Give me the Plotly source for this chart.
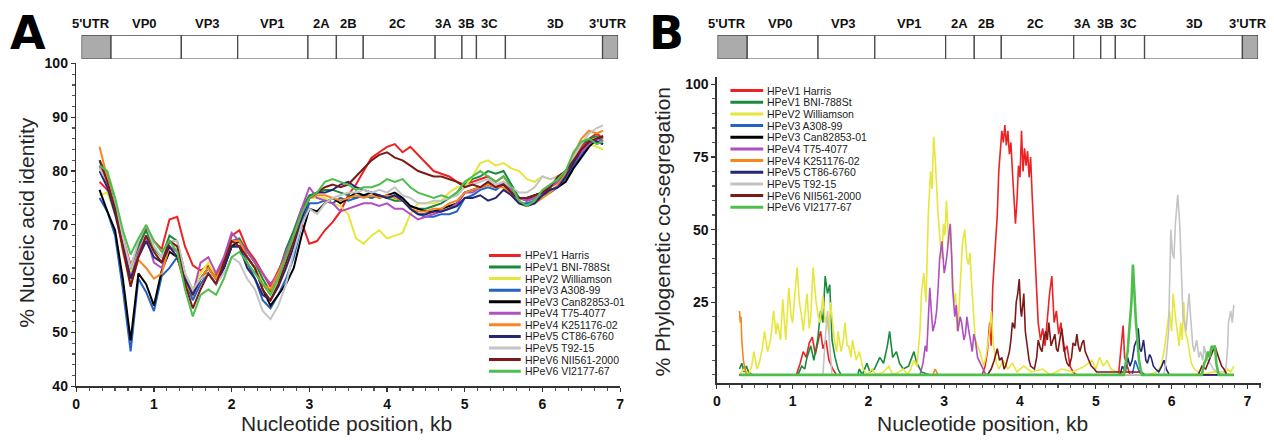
import plotly.graph_objects as go

W, H = 1274, 444
FONT = "Arial, Liberation Sans, sans-serif"

# ---------------- series metadata ----------------
names = ["HPeV1 Harris", "HPeV1 BNI-788St", "HPeV2 Williamson", "HPeV3 A308-99",
         "HPeV3 Can82853-01", "HPeV4 T75-4077", "HPeV4 K251176-02", "HPeV5 CT86-6760",
         "HPeV5 T92-15", "HPeV6 NII561-2000", "HPeV6 VI2177-67"]
colors = ["#ec2224", "#178a3c", "#e6e63c", "#2462c4", "#000000", "#b04fc0",
          "#f7861e", "#262673", "#c4c4c4", "#7c1a18", "#4cbf4c"]

# ---------------- genome map ----------------
regions = ["5'UTR", "VP0", "VP3", "VP1", "2A", "2B", "2C", "3A", "3B", "3C", "3D", "3'UTR"]
region_starts = [0.0, 0.055, 0.186, 0.291, 0.422, 0.475, 0.525, 0.659, 0.709, 0.736, 0.790, 0.971]
region_label_pos = [0.017, 0.117, 0.234, 0.355, 0.447, 0.498, 0.589, 0.675, 0.717, 0.760, 0.883, 0.981]

# ---------------- panel A: % nucleic acid identity ----------------
pos_a = [0.3, 0.4, 0.5, 0.6, 0.7, 0.8, 0.9, 1.0, 1.1, 1.2, 1.3, 1.4, 1.5, 1.6, 1.7, 1.8,
         1.9, 2.0, 2.1, 2.2, 2.3, 2.4, 2.5, 2.6, 2.7, 2.8, 2.9, 3.0, 3.1, 3.2, 3.3, 3.4,
         3.5, 3.6, 3.7, 3.8, 3.9, 4.0, 4.1, 4.2, 4.3, 4.4, 4.5, 4.6, 4.7, 4.8, 4.9, 5.0,
         5.1, 5.2, 5.3, 5.4, 5.5, 5.6, 5.7, 5.8, 5.9, 6.0, 6.1, 6.2, 6.3, 6.4, 6.5, 6.6,
         6.7, 6.78]

id_harris = [78, 76.5, 73, 67.5, 62.5, 66, 69.5, 67, 65.5, 71, 71.5, 66, 62.5, 61.5, 62.5, 60.5,
             63.5, 68, 69, 65.5, 63.5, 61, 58.5, 61.5, 64.5, 68, 70.5, 66.5, 67, 69, 70.5, 72.5,
             75.5, 77.5, 80, 82.5, 83.5, 84.5, 85, 83.5, 84.5, 83, 81.5, 80, 79.5, 79, 78, 77.5,
             78, 78.5, 79, 78, 79, 77, 75, 74.5, 75.5, 76, 77.5, 78, 79.5, 82, 84.5, 86,
             87, 86]
id_bni = [82, 79, 73.5, 67, 61.5, 66, 69, 65.5, 64, 68, 67, 61, 57, 60, 62, 60,
          63, 67, 67.5, 65, 63, 60, 57.5, 61, 65.5, 69, 73, 75.5, 76, 76.5, 76.5, 76,
          75.5, 75, 75.5, 75, 75.5, 75, 74.5, 74.5, 73.5, 73, 73, 73.5, 74, 75, 76, 77.5,
          78.5, 79, 80, 79.5, 80, 77.5, 75, 74.5, 75, 76, 77, 78, 80, 83, 85, 86,
          86.5, 85.5]
id_williamson = [75.5, 76, 72, 67, 61, 65, 68, 65, 63, 67, 66, 61, 58, 61, 63, 60,
                 62, 66, 67, 64, 62, 59, 57, 60, 63, 67, 72, 75, 75, 75, 74, 73.5,
                 72, 67.5, 66.5, 68, 69, 67.5, 68, 68.5, 72, 74, 74, 74, 74.5, 76, 77, 77,
                 79, 81.5, 82, 81, 81.5, 80.5, 80, 78.5, 78, 79, 78.5, 79, 80, 82, 83.5, 85,
                 84.5, 84]
id_a308 = [75, 72.5, 68, 58, 46.5, 60, 57.5, 54, 60.5, 62, 64, 59.5, 56, 59, 61, 59,
           62, 66, 66, 63, 60, 56, 54.5, 57, 60, 64, 70, 74, 74, 74.5, 74, 75,
           74.5, 75, 75.5, 75, 75.5, 75, 75.5, 75, 73, 72, 71.5, 71.5, 72, 72, 72.5, 75,
           75.5, 76.5, 77, 76.5, 77.5, 76, 74, 74, 74.5, 75.5, 76, 77, 78.5, 81, 83, 85,
           85.5, 85]
id_can = [76.5, 72.5, 69, 60, 48.5, 61, 59, 55, 61.5, 65, 64, 59, 57, 60, 62, 60,
          62, 66, 67, 64, 62, 58, 55, 57, 59, 62, 68, 73, 72.5, 74, 75, 74,
          75, 76, 75.5, 76, 75, 75.5, 76, 75, 73.5, 73, 72.5, 72.5, 73, 73.5, 74, 76,
          76.5, 77, 77.5, 77, 77.5, 76, 75, 75, 75.5, 76, 76.5, 77, 78, 80.5, 82.5, 84.5,
          86, 86.5]
id_t75 = [81, 77.5, 73, 67, 60, 65, 68, 63, 62, 66, 65, 60, 57, 63, 64, 61,
          64, 68.5, 67, 65, 63, 61, 59, 61, 65, 68, 73, 77, 75, 74.5, 74, 72.5,
          73, 73.5, 74, 74, 73.5, 74, 73, 73, 72, 71, 71.5, 72, 72.5, 73, 74, 76,
          76, 77, 77.5, 77, 78, 76.5, 75, 74.5, 75, 76, 77, 78, 79, 81.5, 83.5, 85,
          86, 85.5]
id_k251 = [84.5, 79, 73, 65, 59, 63.5, 62, 60, 61, 66, 64, 59, 57, 60, 62, 60,
           63, 67, 67, 64, 62, 59, 58, 61, 64, 68, 72, 75, 75.5, 75.5, 75, 74.5,
           75, 75.5, 75, 75.5, 75, 75.5, 75, 74.5, 73, 72.5, 72.5, 73, 73, 74, 74.5, 76,
           76.5, 77, 77.5, 77, 77, 75.5, 74, 73.5, 74, 75, 76, 77.5, 79.5, 83, 86, 87.5,
           87, 87.5]
id_ct86 = [80, 77, 72, 66, 60, 64, 67, 64, 63, 66, 64, 60, 57, 60, 61, 59,
           62, 66, 66, 62, 60, 57, 56, 58.5, 62, 66, 71, 75, 76, 76, 76.5, 77.5,
           78, 77, 76.5, 76, 75.5, 75, 75.5, 74.5, 73, 72, 72, 72.5, 72.5, 73, 73.5, 75,
           75, 75.5, 74.5, 75, 76.5, 75.5, 74, 73.5, 74, 75.5, 76.5, 77, 79, 81.5, 84, 85.5,
           85.5, 85]
id_t92 = [80.5, 78, 73.5, 68, 62, 67, 70, 66, 64, 67, 67, 61, 58, 60, 61, 59,
          61, 64, 63, 60, 58, 54, 52.5, 55, 59, 65, 70, 73, 72, 74, 75, 75.5,
          76, 76, 76.5, 76, 76.5, 76, 77, 75.5, 75, 74, 74, 74.5, 74.5, 75, 75.5, 77,
          77.5, 78, 78.5, 77.5, 78, 77, 76, 76, 77, 79, 78.5, 79, 80, 82.5, 85, 87,
          88, 88.5]
id_nii = [82, 78, 73, 66, 58.5, 64, 68, 65, 63, 67, 66, 59, 54.5, 58, 61, 59,
          63, 67, 66, 64, 62, 58, 56, 59, 63, 67, 72, 75, 76, 77, 77.5, 77,
          77.5, 79, 80.5, 82, 83, 83.5, 82.5, 82, 81, 80, 79.5, 79, 79, 78.5, 78, 77,
          77.5, 77, 78, 77, 77.5, 76, 75, 75, 75.5, 76, 77, 79, 80, 82, 84, 85.5,
          86, 86.5]
id_vi = [81, 80, 75, 69, 64.5, 67.5, 70, 67, 65, 67, 65, 58, 53, 57, 58, 57,
         60, 64, 65, 63, 61, 59, 57, 60, 64, 68, 72, 75, 76, 78, 78.5, 78,
         77.5, 76.5, 77, 77, 77.5, 78.5, 78, 78.5, 77, 76, 75.5, 75, 75.5, 75, 76, 78,
         79, 80, 79, 78, 79, 77, 74.5, 73.5, 74.5, 76.5, 77.5, 78.5, 80, 83.5, 85.5, 86,
         85, 85.5]
identity_series = [id_harris, id_bni, id_williamson, id_a308, id_can, id_t75,
                   id_k251, id_ct86, id_t92, id_nii, id_vi]

# ---------------- panel B: % phylogenetic co-segregation (kb, %) ----------------
cs_harris = [(0.30, 0), (1.05, 0), (1.10, 4), (1.14, 8), (1.18, 6), (1.22, 11), (1.26, 13), (1.30, 7),
             (1.34, 12), (1.37, 15), (1.40, 9), (1.44, 12), (1.48, 5), (1.53, 2), (1.58, 0), (3.50, 0),
             (3.54, 3), (3.57, 8), (3.60, 18), (3.62, 10), (3.64, 30), (3.67, 42), (3.70, 55), (3.72, 70),
             (3.74, 78), (3.76, 84), (3.78, 80), (3.80, 86), (3.82, 79), (3.84, 84), (3.86, 76), (3.88, 80),
             (3.90, 70), (3.92, 62), (3.94, 52), (3.96, 60), (3.98, 72), (4.00, 68), (4.02, 84), (4.04, 70),
             (4.06, 78), (4.08, 72), (4.10, 77), (4.12, 68), (4.14, 75), (4.16, 62), (4.18, 50), (4.20, 40),
             (4.22, 28), (4.24, 18), (4.27, 12), (4.30, 16), (4.33, 10), (4.36, 20), (4.39, 28), (4.42, 34),
             (4.45, 18), (4.48, 22), (4.51, 14), (4.54, 18), (4.58, 8), (4.62, 10), (4.66, 3), (4.70, 1),
             (4.74, 0), (5.30, 0), (5.34, 10), (5.36, 17), (5.38, 6), (5.41, 3), (5.45, 0), (6.82, 0)]
cs_bni = [(0.30, 2), (0.33, 4), (0.36, 1), (0.39, 3), (0.42, 1), (0.46, 0), (1.07, 0), (1.12, 3),
          (1.16, 2), (1.19, 6), (1.24, 10), (1.28, 5), (1.33, 12), (1.37, 22), (1.40, 18), (1.43, 34),
          (1.46, 28), (1.49, 31), (1.52, 12), (1.56, 6), (1.60, 2), (1.64, 0), (1.86, 0), (1.88, 2),
          (1.92, 0), (1.98, 4), (2.02, 1), (2.08, 2), (2.15, 6), (2.20, 4), (2.25, 10), (2.28, 15),
          (2.32, 6), (2.37, 8), (2.41, 4), (2.46, 2), (2.53, 3), (2.60, 8), (2.64, 4), (2.70, 1),
          (2.80, 0), (6.82, 0)]
cs_williamson = [(0.30, 0), (0.36, 2), (0.42, 0), (0.46, 3), (0.49, 8), (0.53, 2), (0.56, 4), (0.60, 9),
                 (0.63, 15), (0.67, 8), (0.71, 12), (0.75, 22), (0.78, 14), (0.80, 18), (0.84, 12), (0.87, 26),
                 (0.91, 12), (0.95, 30), (0.98, 20), (1.00, 18), (1.03, 28), (1.06, 37), (1.09, 25), (1.12, 20),
                 (1.14, 15), (1.17, 22), (1.19, 28), (1.22, 16), (1.24, 20), (1.27, 37), (1.31, 25), (1.34, 20),
                 (1.36, 18), (1.40, 27), (1.43, 18), (1.45, 20), (1.48, 14), (1.50, 25), (1.53, 16), (1.55, 12),
                 (1.58, 8), (1.60, 15), (1.64, 8), (1.67, 12), (1.69, 18), (1.72, 10), (1.74, 10), (1.77, 6),
                 (1.79, 12), (1.82, 7), (1.84, 5), (1.88, 8), (1.93, 2), (1.98, 0), (2.05, 2), (2.10, 0),
                 (2.20, 1), (2.27, 3), (2.32, 0), (2.40, 1), (2.46, 2), (2.52, 0), (2.56, 2), (2.60, 5),
                 (2.64, 3), (2.68, 15), (2.70, 28), (2.73, 35), (2.76, 25), (2.79, 55), (2.82, 70), (2.84, 64),
                 (2.86, 82), (2.88, 75), (2.90, 62), (2.92, 55), (2.95, 45), (2.97, 40), (2.99, 52), (3.01, 48),
                 (3.03, 60), (3.06, 45), (3.08, 50), (3.10, 38), (3.13, 25), (3.15, 28), (3.17, 15), (3.19, 20),
                 (3.21, 30), (3.24, 45), (3.27, 50), (3.30, 40), (3.32, 38), (3.34, 42), (3.36, 32), (3.38, 25),
                 (3.41, 12), (3.44, 10), (3.47, 8), (3.50, 5), (3.52, 3), (3.55, 6), (3.57, 10), (3.60, 15),
                 (3.62, 22), (3.65, 10), (3.69, 4), (3.72, 2), (3.78, 5), (3.84, 2), (3.90, 4), (3.96, 1),
                 (4.05, 3), (4.15, 1), (4.30, 2), (4.40, 0), (4.55, 2), (4.70, 1), (4.85, 3), (4.95, 5),
                 (5.00, 2), (5.05, 6), (5.10, 3), (5.15, 5), (5.20, 2), (5.28, 1), (5.40, 0), (5.70, 0),
                 (5.80, 1), (5.86, 3), (5.90, 8), (5.92, 12), (5.95, 18), (5.97, 22), (6.00, 15), (6.02, 28),
                 (6.05, 20), (6.07, 15), (6.10, 10), (6.12, 18), (6.14, 12), (6.16, 25), (6.18, 15), (6.21, 12),
                 (6.24, 6), (6.26, 4), (6.30, 2), (6.40, 0), (6.55, 1), (6.70, 0), (6.74, 2), (6.78, 1),
                 (6.82, 3)]
cs_a308 = [(0.30, 0), (5.48, 0), (5.52, 5), (5.56, 2), (5.60, 0), (6.82, 0)]
cs_can = [(0.30, 0), (6.82, 0)]
cs_t75 = [(0.30, 0), (2.68, 0), (2.72, 4), (2.75, 10), (2.77, 8), (2.79, 20), (2.81, 30), (2.83, 22),
          (2.85, 15), (2.88, 18), (2.90, 22), (2.92, 30), (2.94, 40), (2.97, 46), (3.00, 35), (3.02, 38),
          (3.04, 42), (3.06, 48), (3.08, 52), (3.10, 40), (3.11, 30), (3.14, 20), (3.16, 24), (3.18, 15),
          (3.21, 20), (3.23, 18), (3.26, 12), (3.28, 14), (3.30, 20), (3.32, 16), (3.34, 12), (3.37, 8),
          (3.39, 14), (3.41, 12), (3.44, 6), (3.46, 5), (3.49, 3), (3.51, 2), (3.55, 0), (6.82, 0)]
cs_k251 = [(0.30, 22), (0.31, 18), (0.32, 20), (0.33, 12), (0.35, 5), (0.37, 2), (0.39, 0), (2.85, 0),
           (2.88, 2), (2.92, 0), (6.82, 0)]
cs_ct86 = [(0.30, 0), (5.32, 0), (5.35, 3), (5.39, 1), (5.42, 6), (5.45, 3), (5.48, 5), (5.51, 10),
           (5.54, 12), (5.56, 16), (5.58, 9), (5.60, 8), (5.63, 12), (5.66, 5), (5.68, 4), (5.71, 7),
           (5.73, 6), (5.76, 3), (5.79, 2), (5.83, 1), (5.87, 3), (5.90, 5), (5.93, 2), (5.97, 0),
           (6.82, 0)]
cs_t92 = [(0.30, 0), (1.40, 0), (1.43, 12), (1.46, 22), (1.49, 10), (1.52, 0), (5.90, 0), (5.93, 6),
          (5.96, 15), (5.98, 35), (5.99, 50), (6.01, 42), (6.03, 40), (6.05, 52), (6.06, 55), (6.08, 62),
          (6.10, 55), (6.11, 50), (6.13, 35), (6.15, 20), (6.17, 18), (6.19, 15), (6.21, 22), (6.23, 28),
          (6.25, 20), (6.28, 10), (6.30, 8), (6.33, 12), (6.36, 6), (6.38, 8), (6.41, 5), (6.43, 10),
          (6.46, 6), (6.48, 5), (6.52, 3), (6.55, 2), (6.60, 1), (6.64, 1), (6.70, 1), (6.72, 3),
          (6.74, 10), (6.75, 18), (6.78, 22), (6.80, 18), (6.82, 24)]
cs_nii = [(0.30, 0), (3.57, 0), (3.62, 2), (3.66, 5), (3.70, 9), (3.73, 5), (3.76, 6), (3.79, 2),
          (3.81, 3), (3.84, 6), (3.86, 8), (3.88, 12), (3.90, 18), (3.93, 16), (3.95, 25), (3.97, 28),
          (3.99, 33), (4.01, 22), (4.02, 20), (4.04, 25), (4.05, 28), (4.07, 15), (4.10, 8), (4.12, 5),
          (4.14, 3), (4.19, 2), (4.22, 6), (4.24, 12), (4.27, 9), (4.29, 8), (4.31, 12), (4.34, 15),
          (4.36, 12), (4.38, 18), (4.41, 10), (4.44, 12), (4.46, 14), (4.48, 9), (4.50, 8), (4.53, 13),
          (4.55, 16), (4.58, 10), (4.60, 6), (4.62, 4), (4.65, 3), (4.68, 6), (4.70, 11), (4.73, 10),
          (4.75, 14), (4.77, 10), (4.79, 8), (4.82, 11), (4.84, 12), (4.86, 8), (4.89, 6), (4.91, 5),
          (4.94, 3), (4.98, 2), (5.01, 1), (5.60, 1), (5.65, 0), (6.35, 0), (6.40, 3), (6.45, 2),
          (6.50, 5), (6.54, 8), (6.57, 10), (6.60, 7), (6.62, 6), (6.66, 3), (6.69, 2), (6.73, 0),
          (6.82, 0)]
cs_vi = [(0.30, 0), (5.37, 0), (5.40, 5), (5.42, 8), (5.44, 15), (5.46, 22), (5.47, 25), (5.49, 38),
         (5.50, 32), (5.51, 28), (5.53, 18), (5.54, 15), (5.57, 5), (5.59, 2), (5.61, 0), (6.40, 0),
         (6.43, 4), (6.45, 5), (6.48, 8), (6.50, 6), (6.53, 10), (6.55, 9), (6.57, 10), (6.59, 4),
         (6.62, 0), (6.82, 0)]
coseg_series = [cs_harris, cs_bni, cs_williamson, cs_a308, cs_can, cs_t75,
                cs_k251, cs_ct86, cs_t92, cs_nii, cs_vi]

# ---------------- layout geometry (pixels) ----------------
def px_x(p):
    return p / W

def px_y(p):
    return 1 - p / H

fig = go.Figure()

for name, col, vals in zip(names, colors, identity_series):
    assert len(vals) == len(pos_a), name
    fig.add_trace(go.Scatter(x=pos_a, y=vals, mode="lines", name=name,
                             line=dict(color=col, width=2), xaxis="x", yaxis="y",
                             showlegend=False))

for name, col, pts in zip(names, colors, coseg_series):
    xs = [p[0] for p in pts]
    ys = [p[1] for p in pts]
    w = 2.6 if name == "HPeV6 VI2177-67" else 1.6
    fig.add_trace(go.Scatter(x=xs, y=ys, mode="lines", name=name,
                             line=dict(color=col, width=w), xaxis="x2", yaxis="y2",
                             showlegend=False))

# genome maps (bars)
region_ends = region_starts[1:] + [1.0]
widths = [e - s for s, e in zip(region_starts, region_ends)]
fills = ["#ababab" if "UTR" in r else "#ffffff" for r in regions]
for xa, ya in (("x3", "y3"), ("x4", "y4")):
    fig.add_trace(go.Bar(x=widths, base=region_starts, y=[0] * len(regions), orientation="h",
                         width=1, marker=dict(color=fills, line=dict(color="#4a4a4a", width=1.3)),
                         xaxis=xa, yaxis=ya, showlegend=False, hoverinfo="skip"))

axis_common = dict(showline=True, linecolor="#333333", linewidth=1.5, ticks="outside",
                   tickcolor="#333333", ticklen=4, tickwidth=1.2, showgrid=False, zeroline=False,
                   tickfont=dict(family=FONT, size=14, color="#111111", weight="bold"))

fig.update_layout(
    width=W, height=H, margin=dict(l=0, r=0, t=0, b=0),
    paper_bgcolor="white", plot_bgcolor="white", barmode="overlay",
    xaxis=dict(domain=[px_x(72.7), px_x(620)], range=[0, 7], dtick=1, anchor="y",
               minor=dict(ticks="outside", ticklen=3, dtick=1 / 6, tickcolor="#555555"),
               **axis_common),
    yaxis=dict(domain=[px_y(392.5), px_y(57.5)], range=[40, 100], dtick=10, anchor="x",
               minor=dict(ticks="outside", ticklen=3, dtick=2, tickcolor="#555555"),
               **axis_common),
    xaxis2=dict(domain=[px_x(717.3), px_x(1265)], range=[0, 7.18], dtick=1, anchor="y2",
                minor=dict(ticks="outside", ticklen=3, dtick=1 / 6, tickcolor="#555555"),
                **axis_common),
    yaxis2=dict(domain=[px_y(389.3), px_y(72)], range=[-2.9, 102.4], tickvals=[25, 50, 75, 100],
                anchor="x2", minor=dict(ticks="outside", ticklen=3, dtick=5, tickcolor="#555555"),
                **axis_common),
    xaxis3=dict(domain=[px_x(78), px_x(618)], range=[0, 1], visible=False, anchor="y3"),
    yaxis3=dict(domain=[px_y(53), px_y(28)], range=[-0.5, 0.5], visible=False, anchor="x3"),
    xaxis4=dict(domain=[px_x(718), px_x(1262)], range=[0, 1], visible=False, anchor="y4"),
    yaxis4=dict(domain=[px_y(53), px_y(28)], range=[-0.5, 0.5], visible=False, anchor="x4"),
)

ann = []
# genome region labels
for xa in ("x3", "x4"):
    for r, p in zip(regions, region_label_pos):
        ann.append(dict(text=r, x=p, xref=xa, y=px_y(16), yref="paper", showarrow=False,
                        font=dict(family=FONT, size=13, color="#111111", weight="bold"),
                        xanchor="center", yanchor="middle"))

# panel letters
for letter, cx in (("A", 24), ("B", 667)):
    ann.append(dict(text=letter, x=px_x(cx), y=px_y(26), xref="paper", yref="paper",
                    showarrow=False, xanchor="center", yanchor="middle",
                    font=dict(family="DejaVu Sans, Arial", size=46, color="black", weight="bold")))

# axis titles
title_font = dict(family=FONT, size=21, color="#262626")
ann.append(dict(text="% Nucleic acid identity", x=px_x(22), y=px_y(222), xref="paper", yref="paper",
                textangle=-90, showarrow=False, font=title_font, xanchor="center", yanchor="middle"))
ann.append(dict(text="% Phylogenetic co-segregation", x=px_x(663), y=px_y(232), xref="paper",
                yref="paper", textangle=-90, showarrow=False, font=title_font,
                xanchor="center", yanchor="middle"))
ann.append(dict(text="Nucleotide position, kb", x=px_x(345), y=0, xref="paper", yref="paper",
                showarrow=False, font=title_font, xanchor="center", yanchor="bottom", borderpad=0))
ann.append(dict(text="Nucleotide position, kb", x=px_x(985), y=0, xref="paper", yref="paper",
                showarrow=False, font=title_font, xanchor="center", yanchor="bottom", borderpad=0))

# manual compact legends
shapes = []
legend_font = dict(family=FONT, size=10.5, color="#1a1a1a")
for (lx0, lx1, tx, y0, dy) in ((488, 520, 522, 256.7, 12.0), (731, 764, 766, 85.7, 12.1)):
    for i, (name, col) in enumerate(zip(names, colors)):
        yy = px_y(y0 + dy * i)
        shapes.append(dict(type="line", xref="paper", yref="paper", x0=px_x(lx0), x1=px_x(lx1),
                           y0=yy, y1=yy, line=dict(color=col, width=3)))
        ann.append(dict(text=name, x=px_x(tx), y=yy, xref="paper", yref="paper", showarrow=False,
                        xanchor="left", yanchor="middle", font=legend_font))

fig.update_layout(annotations=ann, shapes=shapes)
fig.write_html("out.html", config={"displayModeBar": False, "staticPlot": True},
               post_script="document.body.style.margin='0';document.body.style.overflow='hidden';")
